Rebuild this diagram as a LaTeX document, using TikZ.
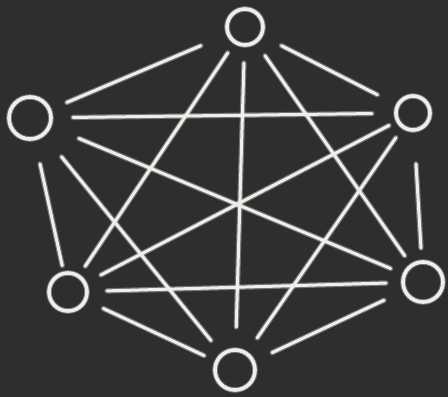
\documentclass[tikz,border=0pt]{standalone}
\usepackage{xcolor}
\usetikzlibrary{calc}
\definecolor{boardGray}{HTML}{2E2E2E}
\definecolor{chalkWhite}{HTML}{EEEEEA}
\tikzset{
  vertex/.style={circle, draw=chalkWhite, line width=3.6pt, inner sep=0pt, outer sep=0pt, minimum size=#1,
    preaction={draw=chalkWhite, draw opacity=0.35, line width=5.6pt}},
  chalk/.style={draw=chalkWhite, line width=3pt, line cap=round,
    preaction={draw=chalkWhite, draw opacity=0.35, line width=5.4pt, line cap=round}}
}

\begin{document}
\begin{tikzpicture}[x=1pt,y=-1pt]

% --------------------------------------------------------------------------
% Board
% --------------------------------------------------------------------------
\fill[boardGray] (0,0) rectangle (448,397);
\useasboundingbox (0,0) rectangle (448,397);

% --------------------------------------------------------------------------
% Vertices
% --------------------------------------------------------------------------
\node[vertex=36pt] (nTop) at (245,27) {};
\node[vertex=42pt] (nLeft) at (30,118) {};
\node[vertex=34pt] (nRight) at (413,113) {};
\node[vertex=38pt] (nLowLeft) at (68,292) {};
\node[vertex=40pt] (nLowRight) at (423,282) {};
\node[vertex=40pt] (nBottom) at (235,370) {};

% --------------------------------------------------------------------------
% Edges (every pair)
% --------------------------------------------------------------------------
\draw[chalk, shorten <=30pt, shorten >=19pt] (nTop) -- (nLeft);
\draw[chalk, shorten <=23pt, shorten >=23pt] (nTop) -- (nRight);
\draw[chalk, shorten <=13pt, shorten >=12pt] (nTop) -- (nLowLeft);
\draw[chalk, shorten <=17pt, shorten >=12pt] (nTop) -- (nLowRight);
\draw[chalk, shorten <=18pt, shorten >=23pt] (nTop) -- (nBottom);

\draw[chalk, shorten <=22pt, shorten >=24pt] (nLeft) -- (nRight);
\draw[chalk, shorten <=26pt, shorten >=8pt] (nLeft) -- (nLowLeft);
\draw[chalk, shorten <=32pt, shorten >=15pt] (nLeft) -- (nLowRight);
\draw[chalk, shorten <=29pt, shorten >=18pt] (nLeft) -- (nBottom);

\draw[chalk, shorten <=10pt, shorten >=18pt] (nRight) -- (nLowLeft);
\draw[chalk, shorten <=34pt, shorten >=14pt] (nRight) -- (nLowRight);
\draw[chalk, shorten <=13pt, shorten >=19pt] (nRight) -- (nBottom);

\draw[chalk, shorten <=20pt, shorten >=17pt] (nLowLeft) -- (nLowRight);
\draw[chalk, shorten <=20pt, shorten >=14pt] (nLowLeft) -- (nBottom);

\draw[chalk, shorten <=23pt, shorten >=21pt] (nLowRight) -- (nBottom);

\end{tikzpicture}
\end{document}
